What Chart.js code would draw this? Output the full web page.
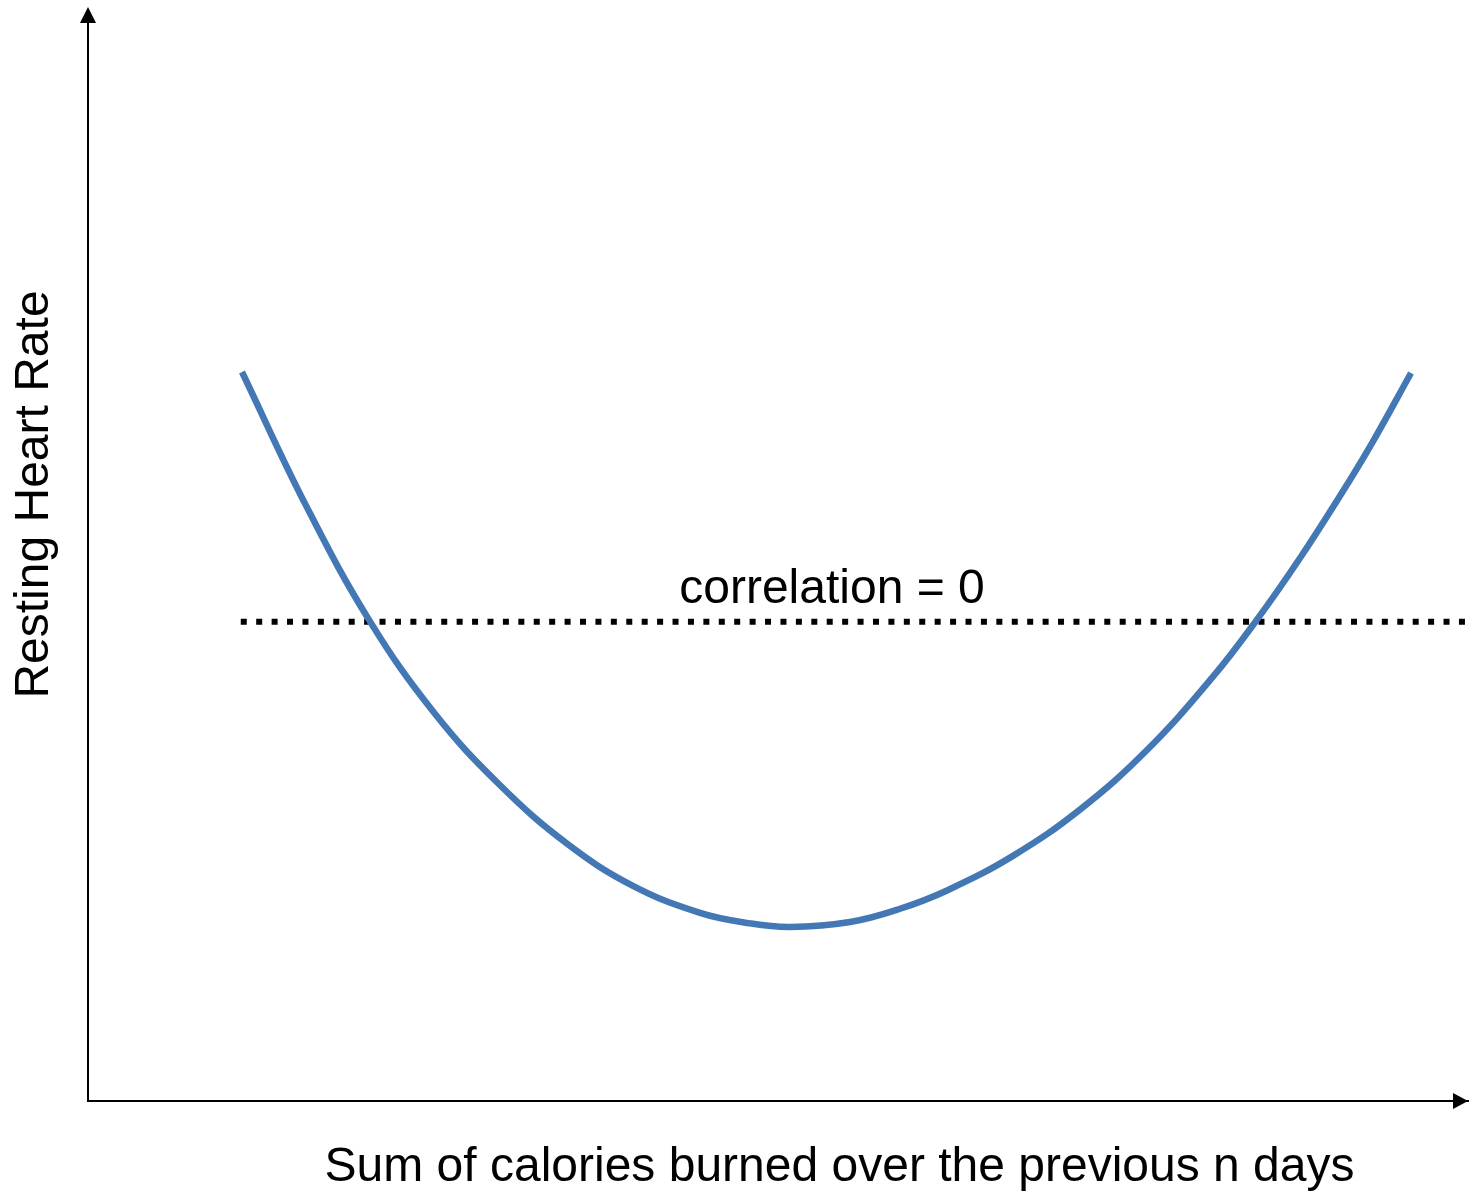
<!DOCTYPE html>
<html>
<head>
<meta charset="utf-8">
<script src="https://cdn.jsdelivr.net/npm/chart.js@4/dist/chart.umd.min.js"></script>
<style>
  html, body { margin: 0; padding: 0; background: #ffffff; }
  #wrap { width: 1471px; height: 1191px; position: relative; }
</style>
</head>
<body>
<div id="wrap"><canvas id="c" width="1471" height="1191"></canvas></div>
<script>
// ---- data (relative units, 0..100 on both axes) ----
const curveX = [11.16, 15.80, 20.43, 25.14, 29.86, 34.71, 39.49, 44.35, 47.97, 50.87,
                55.22, 58.84, 62.25, 67.03, 71.88, 76.74, 81.52, 84.71, 87.83, 90.72, 93.12, 95.87];
const curveY = [66.82, 54.57, 43.96, 35.49, 28.94, 23.59, 19.72, 17.24, 16.28, 15.95,
                16.41, 17.62, 19.30, 22.47, 26.71, 32.17, 38.89, 44.12, 49.77, 55.45, 60.47, 66.73];
const zeroLineX = [11.07, 99.82];
const zeroLineY = [43.93, 43.93];
const xTitle = 'Sum of calories burned over the previous n days';
const yTitle = 'Resting Heart Rate';
const noteText = 'correlation = 0';

const curvePts = curveX.map((x, i) => ({ x: x, y: curveY[i] }));
const zeroPts = zeroLineX.map((x, i) => ({ x: x, y: zeroLineY[i] }));

const FONT = '48px "Liberation Sans", Arial, sans-serif';

const decor = {
  id: 'decor',
  afterDraw(chart) {
    const ctx = chart.ctx;
    const a = chart.chartArea;
    ctx.save();
    ctx.fillStyle = '#000000';
    // y-axis arrow
    ctx.beginPath();
    ctx.moveTo(a.left, a.top - 3);
    ctx.lineTo(a.left - 8, a.top + 13);
    ctx.lineTo(a.left + 8, a.top + 13);
    ctx.closePath();
    ctx.fill();
    // x-axis arrow
    ctx.beginPath();
    ctx.moveTo(a.right, a.bottom);
    ctx.lineTo(a.right - 15, a.bottom - 8);
    ctx.lineTo(a.right - 15, a.bottom + 8);
    ctx.closePath();
    ctx.fill();

    ctx.font = FONT;
    ctx.textBaseline = 'alphabetic';
    ctx.textAlign = 'center';
    ctx.fillText(xTitle, 839.5, 1181);
    ctx.fillText(noteText, 832, 603);
    ctx.translate(48, 494.5);
    ctx.rotate(-Math.PI / 2);
    ctx.fillText(yTitle, 0, 0);
    ctx.restore();
  }
};

new Chart(document.getElementById('c'), {
  type: 'line',
  data: {
    datasets: [
      {
        data: curvePts,
        borderColor: '#4378B5',
        borderWidth: 6.5,
        pointRadius: 0,
        fill: false,
        tension: 0.4,
        borderCapStyle: 'butt',
        clip: 10
      },
      {
        data: zeroPts,
        borderColor: '#000000',
        borderWidth: 6,
        borderDash: [6, 9.42],
        borderCapStyle: 'butt',
        pointRadius: 0,
        fill: false,
        tension: 0,
        clip: 10
      }
    ]
  },
  plugins: [decor],
  options: {
    responsive: false,
    animation: false,
    events: [],
    layout: { padding: { left: 88, right: 3, top: 10, bottom: 90 } },
    plugins: { legend: { display: false }, tooltip: { enabled: false }, title: { display: false } },
    scales: {
      x: {
        type: 'linear', min: 0, max: 100,
        grid: { display: false, drawTicks: false },
        ticks: { display: false },
        border: { display: true, color: '#000000', width: 2 }
      },
      y: {
        type: 'linear', min: 0, max: 100,
        grid: { display: false, drawTicks: false },
        ticks: { display: false },
        border: { display: true, color: '#000000', width: 2 }
      }
    }
  }
});
</script>
</body>
</html>
